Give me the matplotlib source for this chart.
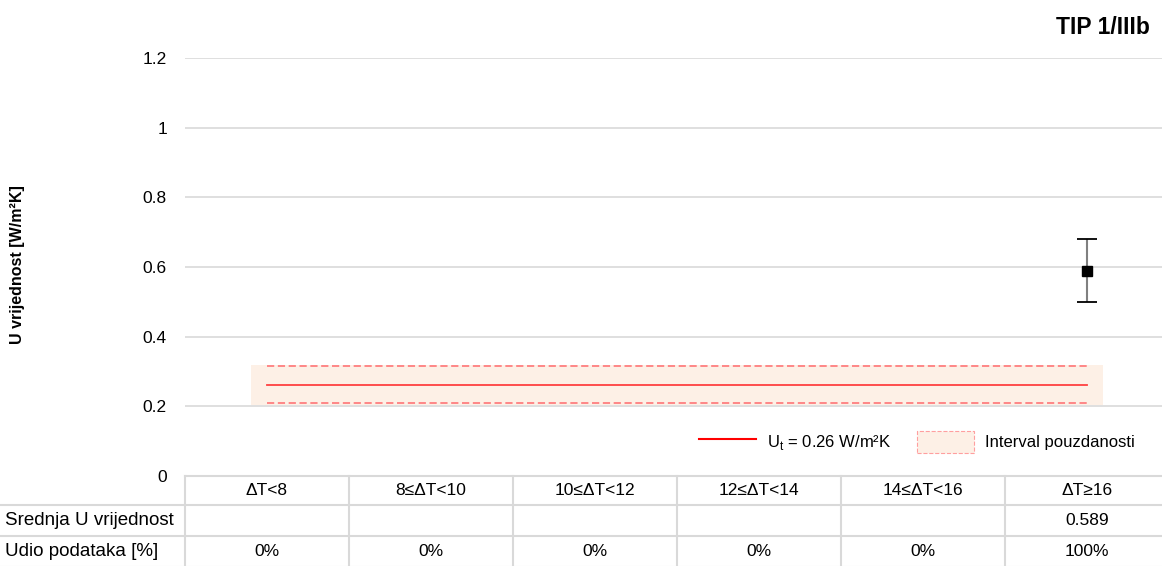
import matplotlib.pyplot as plt
import numpy as np
from matplotlib.lines import Line2D
from matplotlib.patches import Patch
from matplotlib.transforms import blended_transform_factory

plt.rcParams['font.family'] = ['Liberation Sans', 'DejaVu Sans']

# Temperature difference classes and results per class
categories = ["ΔT<8", "8≤ΔT<10", "10≤ΔT<12", "12≤ΔT<14", "14≤ΔT<16", "ΔT≥16"]
mean_u = [None, None, None, None, None, 0.589]
u_err = [None, None, None, None, None, 0.09]
share = ["0%", "0%", "0%", "0%", "0%", "100%"]
row_labels = ["Srednja U vrijednost", "Udio podataka [%]"]

# Target value and its confidence interval
u_target = 0.26
ci_low, ci_high = 0.21, 0.315
band_low, band_high = 0.205, 0.32

W, H = 1162, 566
fig = plt.figure(figsize=(W / 100, H / 100), dpi=100)
ax = fig.add_axes([185 / W, (H - 476) / H, (1169 - 185) / W, (476 - 58) / H])

x = np.arange(len(categories))
ax.set_xlim(-0.5, len(categories) - 0.5)
ax.set_ylim(0, 1.2)

# confidence band and target line
ax.fill_between([x[0] - 0.1, x[-1] + 0.1], band_low, band_high, color="#fdf0e6", lw=0, zorder=1)
ax.plot([x[0], x[-1]], [ci_high, ci_high], color="#ff7f7f", lw=1.3, ls=(0, (4, 2)), zorder=2)
ax.plot([x[0], x[-1]], [ci_low, ci_low], color="#ff7f7f", lw=1.3, ls=(0, (4, 2)), zorder=2)
ax.plot([x[0], x[-1]], [u_target, u_target], color="#ff4040", lw=1.3, zorder=3)

# measured mean values with error bars
for i, (m, e) in enumerate(zip(mean_u, u_err)):
    if m is None:
        continue
    _, caps, _ = ax.errorbar(i, m, yerr=e, fmt="s", color="black", ms=7.5,
                             ecolor="#808080", elinewidth=1.5, capsize=7, capthick=1.3, zorder=5)
    for c in caps:
        c.set_markeredgecolor("black")

ax.set_yticks(np.arange(0, 1.21, 0.2))
ax.set_yticklabels(["0", "0.2", "0.4", "0.6", "0.8", "1", "1.2"], fontsize=12.5)
ax.tick_params(axis="y", length=0, pad=13)
ax.set_xticks([])
ax.grid(axis="y", color="#d9d9d9", lw=1.2)
ax.set_axisbelow(True)
for s in ax.spines.values():
    s.set_visible(False)

fig.text(18 / W, (H - 265) / H, "U vrijednost [W/m²K]", rotation=90, fontsize=11.5,
         fontweight="bold", ha="center", va="center")
fig.text(1150 / W, (H - 28) / H, "TIP 1/IIIb", fontsize=16.5, fontweight="bold",
         ha="right", va="center")

handles = [Line2D([], [], color="#ff0000", lw=1.5),
           Patch(facecolor="#fdf0e6", edgecolor="#ff9f9f", ls="--", lw=0.8)]
ax.legend(handles, ["U$_\\mathregular{t}$ = 0.26 W/m²K", "Interval pouzdanosti"],
          loc="lower right", bbox_to_anchor=(1 - (1169 - 1150) / (1169 - 185), 0.02),
          frameon=False, ncol=2, fontsize=12, handlelength=3.4, handleheight=1.6,
          columnspacing=1.5, handletextpad=0.7)

# data table below the axis
tr = blended_transform_factory(ax.transData, fig.transFigure)
rows_px = [476, 505, 536, 567]
rows = [(H - r) / H for r in rows_px]
gray = "#d9d9d9"
left = x[0] - 0.5
right = x[-1] + 0.5
fig.add_artist(Line2D([left, right], [rows[0], rows[0]], transform=tr, color=gray, lw=1.5))
for r in rows[1:]:
    fig.add_artist(Line2D([0, right], [r, r], transform=blended_transform_factory(
        fig.transFigure, fig.transFigure), color=gray, lw=1.5))
for b in np.arange(left, right, 1.0):
    fig.add_artist(Line2D([b, b], [rows[-1], rows[0]], transform=tr, color=gray, lw=1.5))
fig.add_artist(Line2D([right, right], [rows[-1], rows[0]], transform=tr, color=gray, lw=1.5))

mids = [(rows[k] + rows[k + 1]) / 2 for k in range(3)]
for i, cat in enumerate(categories):
    fig.text(i, mids[0], cat, transform=tr, ha="center", va="center", fontsize=12.5)
    if mean_u[i] is not None:
        fig.text(i, mids[1], f"{mean_u[i]:.3f}", transform=tr, ha="center", va="center", fontsize=12.5)
    fig.text(i, mids[2], share[i], transform=tr, ha="center", va="center", fontsize=12.5)
for k, lab in enumerate(row_labels):
    fig.text(5 / W, mids[k + 1], lab, ha="left", va="center", fontsize=13.5)

fig.savefig("out.png", dpi=100)
